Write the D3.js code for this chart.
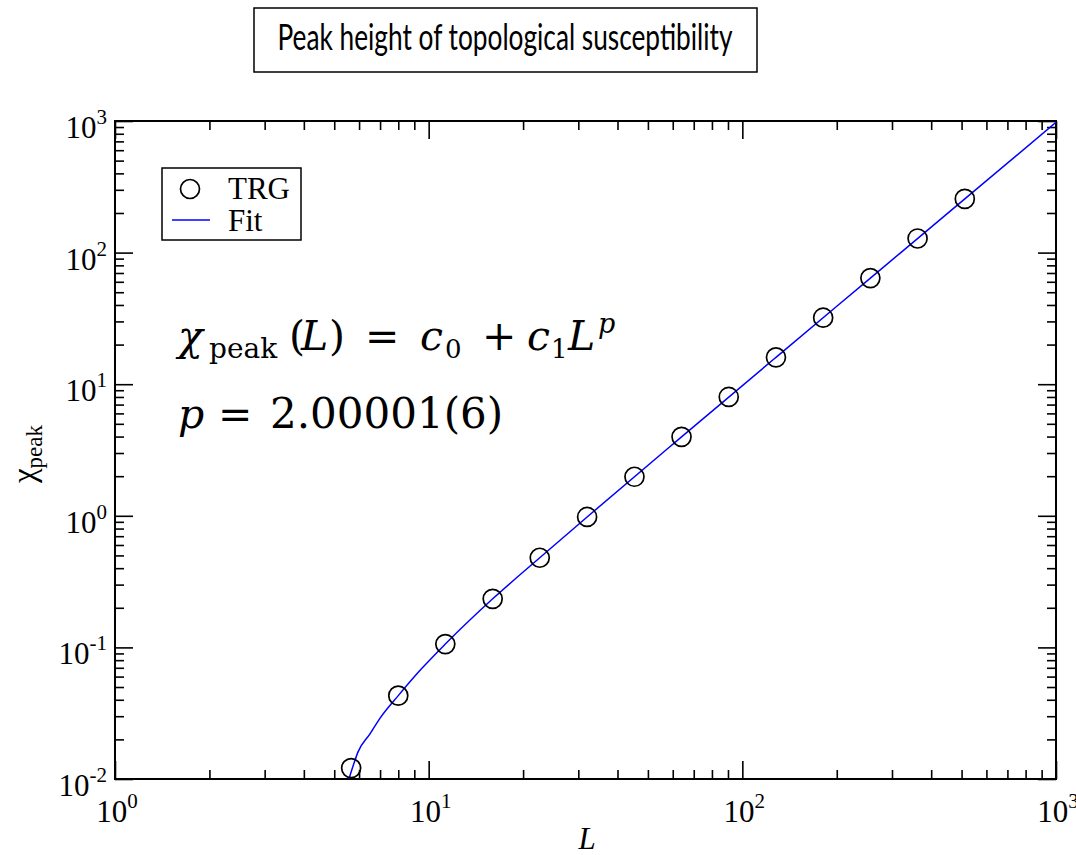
<!DOCTYPE html>
<html>
<head>
<meta charset="utf-8">
<script src="https://cdn.jsdelivr.net/npm/d3@7"></script>
<style>
  body { margin: 0; background: #fff; }
  svg { display: block; }
  .tick line { stroke: #000; stroke-width: 1.6; }
</style>
</head>
<body>
<svg id="chart" width="1076" height="855"></svg>
<script>
var sizes = [5.66, 8, 11.3, 16, 22.6, 32, 45.3, 64, 90.5, 128, 181, 256, 362, 512];
var chiPeak = [0.0121, 0.043, 0.106, 0.234, 0.48, 0.98, 1.98, 3.98, 8.0, 16.0, 32.0, 64.0, 128, 256];

// fit curve
var fitL = [5.57, 5.8, 5.95, 6.5, 7.0, 8, 9.5, 11.3, 16, 22.6, 32, 64, 128, 256, 512, 1000];
var fitChi = [0.01, 0.0135, 0.016, 0.022, 0.029, 0.043, 0.069, 0.106, 0.234, 0.48, 0.98, 3.98, 16.0, 64.0, 256, 976];

var xMajor = [0, 1, 2, 3];
var yMajor = [-2, -1, 0, 1, 2, 3];

var svg = d3.select("#chart");
var margin = {top: 121, right: 20, bottom: 76, left: 115},
    width = 1076 - margin.left - margin.right,
    height = 855 - margin.top - margin.bottom;

var x = d3.scaleLog().domain([1, 1000]).range([0, width]);
var y = d3.scaleLog().domain([0.01, 1000]).range([height, 0]);

var minorX = [], minorY = [];
[1, 10, 100].forEach(function (d) {
    for (var k = 2; k <= 9; k++) minorX.push(d * k);
});
[0.01, 0.1, 1, 10, 100].forEach(function (d) {
    for (var k = 2; k <= 9; k++) minorY.push(d * k);
});
var majX = xMajor.map(function (e) {return Math.pow(10, e);});
var majY = yMajor.map(function (e) {return Math.pow(10, e);});

// title box
svg.append("rect")
    .attr("x", 254).attr("y", 8).attr("width", 503).attr("height", 64)
    .attr("fill", "none").attr("stroke", "#000").attr("stroke-width", 1.5);
svg.append("text")
    .attr("x", 505).attr("y", 50)
    .attr("text-anchor", "middle")
    .attr("font-family", "Lato, 'Open Sans', sans-serif")
    .attr("font-size", 36)
    .attr("textLength", 455).attr("lengthAdjust", "spacingAndGlyphs")
    .text("Peak height of topological susceptibility");

var g = svg.append("g")
    .attr("transform", "translate(" + margin.left + "," + margin.top + ")");

g.append("defs").append("clipPath").attr("id", "clip")
    .append("rect").attr("width", width).attr("height", height);

// ticks on all four sides, pointing inward
function ticks(axisFn, vals, size, tx) {
    var a = axisFn(axisFn === d3.axisBottom || axisFn === d3.axisTop ? x : y)
        .tickValues(vals).tickSize(-size).tickFormat("");
    var sel = g.append("g").attr("transform", tx).call(a);
    sel.select(".domain").remove();
}
ticks(d3.axisBottom, majX, 18, "translate(0," + height + ")");
ticks(d3.axisBottom, minorX, 9, "translate(0," + height + ")");
ticks(d3.axisTop, majX, 18, "translate(0,0)");
ticks(d3.axisTop, minorX, 9, "translate(0,0)");
ticks(d3.axisLeft, majY, 18, "translate(0,0)");
ticks(d3.axisLeft, minorY, 9, "translate(0,0)");
ticks(d3.axisRight, majY, 18, "translate(" + width + ",0)");
ticks(d3.axisRight, minorY, 9, "translate(" + width + ",0)");

// frame
g.append("rect").attr("width", width).attr("height", height)
    .attr("fill", "none").attr("stroke", "#000").attr("stroke-width", 2);

// tick labels: 10^n
var serif = "'Liberation Serif', 'Times New Roman', serif";
function powLabel(sel, e) {
    sel.append("tspan").text("10");
    sel.append("tspan").attr("font-size", 21).attr("dy", -14).text(e);
}
xMajor.forEach(function (e) {
    var t = g.append("text")
        .attr("x", x(Math.pow(10, e)) + 2).attr("y", height + 43)
        .attr("text-anchor", "middle")
        .attr("font-family", serif).attr("font-size", 31);
    powLabel(t, e);
});
yMajor.forEach(function (e) {
    var t = g.append("text")
        .attr("x", -8).attr("y", y(Math.pow(10, e)) + 17)
        .attr("text-anchor", "end")
        .attr("font-family", serif).attr("font-size", 31);
    powLabel(t, e);
});

// axis titles
g.append("text")
    .attr("x", 472).attr("y", height + 70)
    .attr("text-anchor", "middle")
    .attr("font-family", serif).attr("font-size", 31).attr("font-style", "italic")
    .text("L");
var yl = svg.append("text")
    .attr("transform", "translate(35,454) rotate(-90)")
    .attr("text-anchor", "middle")
    .attr("font-family", serif).attr("font-size", 33);
yl.append("tspan").text("\u03c7");
yl.append("tspan").attr("font-size", 23).attr("dy", 7).text("peak");

// fit line
var line = d3.line()
    .x(function (d) {return x(d[0]);})
    .y(function (d) {return y(d[1]);})
    .curve(d3.curveMonotoneX);
g.append("path")
    .datum(d3.zip(fitL, fitChi))
    .attr("clip-path", "url(#clip)")
    .attr("d", line)
    .attr("fill", "none").attr("stroke", "#0000ff").attr("stroke-width", 1.5);

// TRG points
g.selectAll("circle.pt")
    .data(d3.zip(sizes, chiPeak))
    .enter().append("circle")
    .attr("class", "pt")
    .attr("cx", function (d) {return x(d[0]);})
    .attr("cy", function (d) {return y(d[1]);})
    .attr("r", 9.5)
    .attr("fill", "none").attr("stroke", "#000").attr("stroke-width", 1.7);

// legend
var lg = svg.append("g");
lg.append("rect").attr("x", 162).attr("y", 168).attr("width", 139).attr("height", 72)
    .attr("fill", "#fff").attr("stroke", "#000").attr("stroke-width", 1.5);
lg.append("circle").attr("cx", 190).attr("cy", 189).attr("r", 9.5)
    .attr("fill", "none").attr("stroke", "#000").attr("stroke-width", 1.7);
lg.append("line").attr("x1", 172).attr("x2", 210).attr("y1", 220).attr("y2", 220)
    .attr("stroke", "#0000ff").attr("stroke-width", 1.5);
lg.append("text").attr("x", 228).attr("y", 199)
    .attr("font-family", serif).attr("font-size", 31).text("TRG");
lg.append("text").attr("x", 228).attr("y", 231)
    .attr("font-family", serif).attr("font-size", 31).text("Fit");

// formula annotation
var mathFont = "'DejaVu Serif', serif";
function piece(px, py, str, size, italic) {
    svg.append("text").attr("x", px).attr("y", py)
        .attr("font-family", mathFont).attr("font-size", size)
        .attr("font-style", italic ? "italic" : "normal")
        .text(str);
}
piece(178, 350, "\u03c7", 41, true);
piece(209, 358, "peak", 28, false);
piece(289, 350, "(", 41, false);
piece(301, 350, "L", 41, true);
piece(329, 350, ")", 41, false);
piece(365, 350, "=", 41, false);
piece(420, 350, "c", 41, true);
piece(445, 358, "0", 26, false);
piece(482, 350, "+", 41, false);
piece(527, 350, "c", 41, true);
piece(551, 358, "1", 26, false);
piece(568, 350, "L", 41, true);
piece(598, 333, "p", 27, true);

piece(178, 428, "p", 41, true);
piece(218, 428, "=", 41, false);
piece(270, 428, "2.00001(6)", 42, false);
</script>
</body>
</html>
